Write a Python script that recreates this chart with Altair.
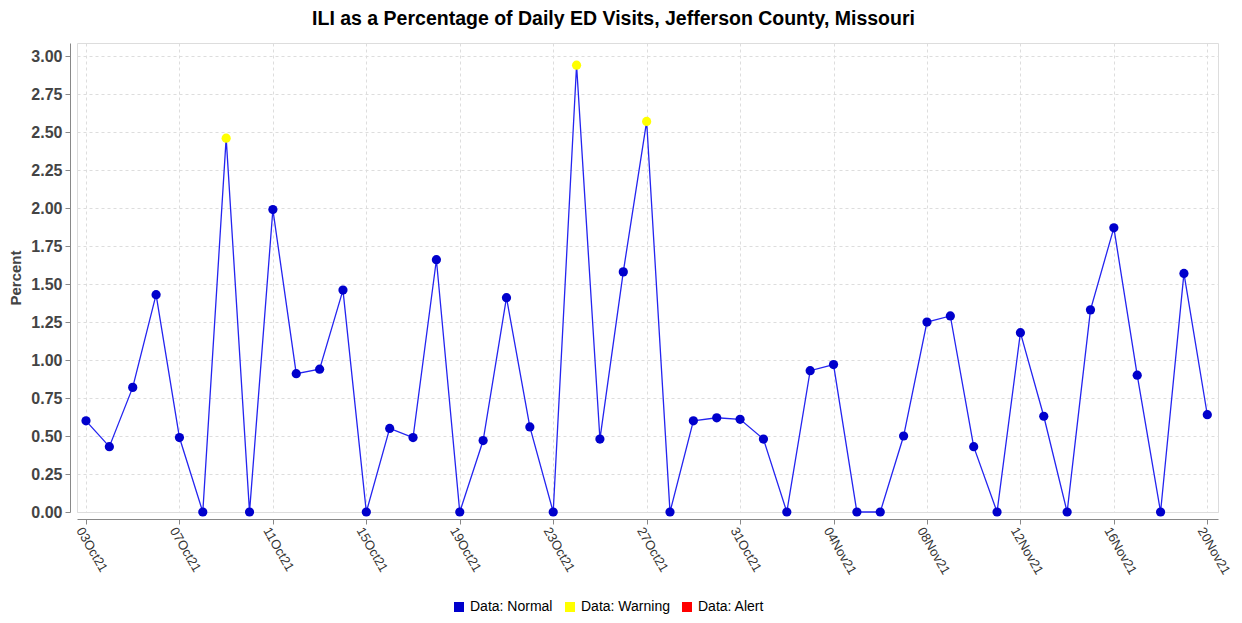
import altair as alt
import pandas as pd

dates = pd.date_range("2021-10-03", "2021-11-20", freq="D").strftime("%Y-%m-%d").tolist()
values = [0.60, 0.43, 0.82, 1.43, 0.49, 0.00, 2.46, 0.00, 1.99, 0.91,
          0.94, 1.46, 0.00, 0.55, 0.49, 1.66, 0.00, 0.47, 1.41, 0.56,
          0.00, 2.94, 0.48, 1.58, 2.57, 0.00, 0.60, 0.62, 0.61, 0.48,
          0.00, 0.93, 0.97, 0.00, 0.00, 0.50, 1.25, 1.29, 0.43, 0.00,
          1.18, 0.63, 0.00, 1.33, 1.87, 0.90, 0.00, 1.57, 0.64]
status = ["Data: Normal"] * len(values)
for i in (6, 21, 24):
    status[i] = "Data: Warning"

categories = ["Data: Normal", "Data: Warning", "Data: Alert"]
colors = ["#0000CC", "#FFFF00", "#FF0000"]
tick_dates = [(2021, 10, d) for d in (3, 7, 11, 15, 19, 23, 27, 31)] + \
             [(2021, 11, d) for d in (4, 8, 12, 16, 20)]
y_ticks = [i * 0.25 for i in range(13)]

df = pd.DataFrame({"date": dates, "value": values, "status": status})

FONT = "Liberation Sans"

x_enc = alt.X(
    "date:T",
    scale=alt.Scale(type="utc",
                    domain=[alt.DateTime(year=2021, month=10, date=2, hours=14, minutes=45, utc=True),
                            alt.DateTime(year=2021, month=11, date=20, hours=11, utc=True)]),
    axis=alt.Axis(
        title=None,
        values=[alt.DateTime(year=y, month=m, date=d, utc=True) for (y, m, d) in tick_dates],
        labelExpr="utcFormat(datum.value, '%d%b%y')",
        labelAngle=60, labelAlign="left", labelBaseline="middle",
        labelFont=FONT, labelFontSize=13, labelColor="#333333",
        labelPadding=4, labelOffset=-7, labelBound=False, labelOverlap=False,
        grid=True, gridColor="#DDDDDD", gridDash=[3, 3],
        domainColor="#888888", tickColor="#888888", offset=7, tickSize=5,
    ),
)
y_enc = alt.Y(
    "value:Q",
    scale=alt.Scale(domain=[0, 3.086], nice=False, zero=False),
    axis=alt.Axis(
        title="Percent", titleFont=FONT, titleFontSize=15, titleFontWeight="bold",
        titleColor="#444444", titlePadding=7,
        values=y_ticks, format=".2f",
        labelFont=FONT, labelFontSize=16, labelFontWeight="bold", labelColor="#444444",
        labelPadding=3,
        grid=True, gridColor="#DDDDDD", gridDash=[3, 3],
        domainColor="#888888", tickColor="#888888", offset=7, tickSize=5,
    ),
)

line = alt.Chart(df).mark_line(color="#2424F0", strokeWidth=1.3).encode(x=x_enc, y=y_enc)
points = alt.Chart(df).mark_point(filled=True, opacity=1, size=85, shape="circle").encode(
    x=x_enc, y=y_enc,
    color=alt.Color(
        "status:N",
        scale=alt.Scale(domain=categories, range=colors),
        legend=alt.Legend(
            title=None, orient="none", direction="horizontal",
            legendX=375, legendY=557,
            symbolType="square", symbolSize=100, symbolStrokeWidth=0,
            labelFont=FONT, labelFontSize=14, labelColor="#000000",
            columnPadding=10, symbolOffset=0,
        ),
    ),
)

chart = (line + points).properties(
    width=1141, height=469,
    autosize=alt.AutoSizeParams(type="none"),
    padding={"left": 69, "top": 35, "right": 16, "bottom": 103},
    title=alt.TitleParams(
        "ILI as a Percentage of Daily ED Visits, Jefferson County, Missouri",
        font=FONT, fontSize=19.5, fontWeight="bold", color="#000000", anchor="middle",
        offset=14, dx=-34,
    ),
).configure_view(stroke="#888888", strokeWidth=1.2).configure(background="white")

chart.save("out.html", embed_options={"renderer": "svg", "actions": False})
